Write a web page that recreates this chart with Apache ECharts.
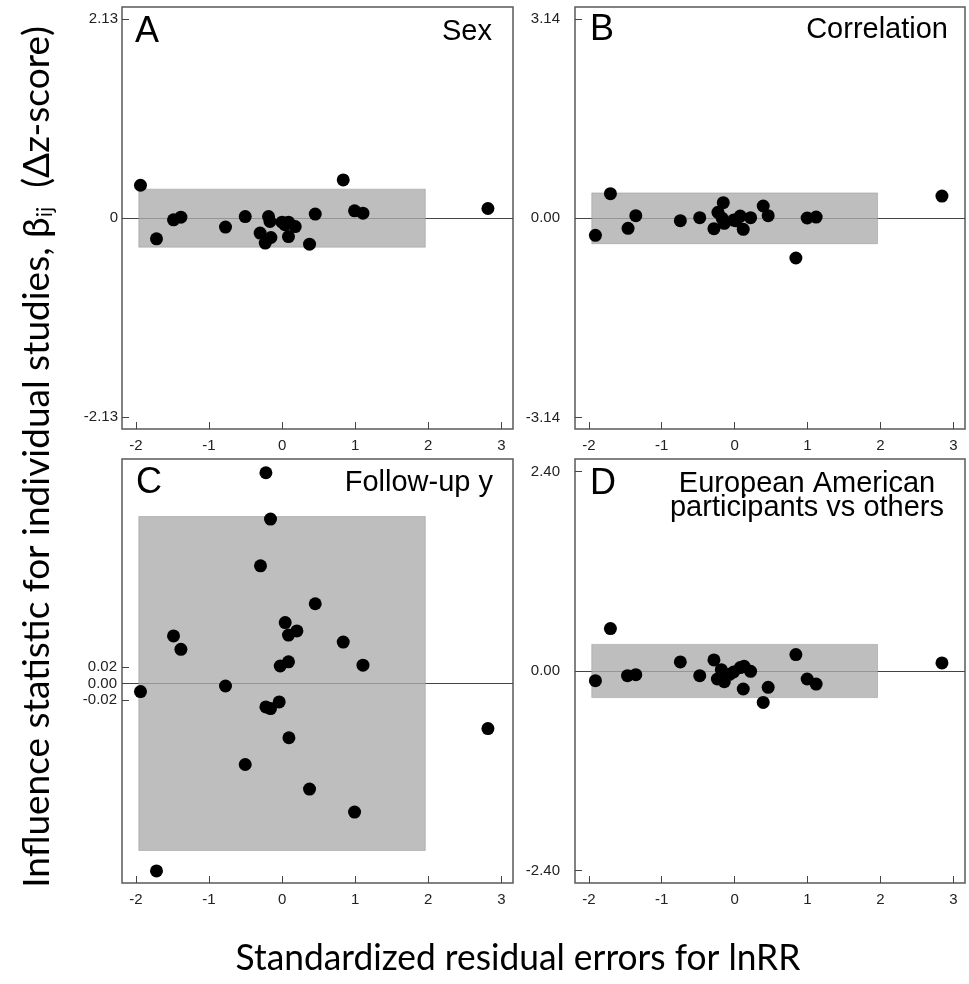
<!DOCTYPE html>
<html>
<head>
<meta charset="utf-8">
<script src="https://cdn.jsdelivr.net/npm/echarts@6/dist/echarts.min.js"></script>
<style>html,body{margin:0;padding:0;background:#fff}#c{width:969px;height:984px}</style>
</head>
<body>
<div id="c"></div>
<script>
// ---- data ----
const xTicks = [-2, -1, 0, 1, 2, 3];
const xTickLabels = ['-2', '-1', '0', '1', '2', '3'];

const panelLetters = ['A', 'B', 'C', 'D'];
const panelTitles = ['Sex', 'Correlation', 'Follow-up y', 'European American\nparticipants vs others'];

const yTicksA = [-2.13, 0, 2.13];
const yTickLabelsA = ['-2.13', '0', '2.13'];
const yTicksB = [-3.14, 0, 3.14];
const yTickLabelsB = ['-3.14', '0.00', '3.14'];
const yTicksC = [-0.02, 0, 0.02];
const yTickLabelsC = ['-0.02', '0.00', '0.02'];
const yTicksD = [-2.4, 0, 2.4];
const yTickLabelsD = ['-2.40', '0.00', '2.40'];

// axis extents
const xRange = [-2.19, 3.16];
const yRangeA = [-2.255, 2.258];
const yRangeB = [-3.32, 3.33];
const yRangeC = [-0.239, 0.269];
const yRangeD = [-2.552, 2.552];

// grey band: residual limits and influence thresholds
const bandX = [-1.96, 1.96];
const bandA = 0.31;
const bandB = 0.40;
const bandC = 0.20;
const bandD = 0.32;

// panel A: Sex
const residA = [-1.937, -1.718, -1.485, -1.384, -0.774, -0.504, -0.185, -0.165, -0.30, -0.23, -0.152, 0.0, 0.088, 0.04, 0.18, 0.088, 0.454, 0.376, 0.837, 0.992, 1.107, 2.817];
const betaA  = [0.352, -0.221, -0.018, 0.010, -0.096, 0.017, 0.017, -0.036, -0.160, -0.267, -0.207, -0.043, -0.043, -0.070, -0.090, -0.197, 0.043, -0.278, 0.409, 0.078, 0.053, 0.103];

// panel B: Correlation
const residB = [-1.91, -1.704, -1.462, -1.356, -0.745, -0.479, -0.284, -0.229, -0.156, -0.142, -0.17, -0.014, 0.02, 0.077, 0.118, 0.219, 0.392, 0.46, 0.84, 0.995, 1.118, 2.844];
const betaB  = [-0.268, 0.388, -0.158, 0.041, -0.037, 0.010, -0.163, 0.094, 0.246, -0.079, 0.000, -0.027, -0.040, 0.036, -0.173, 0.010, 0.194, 0.041, -0.625, 0.005, 0.020, 0.351];

// panel C: Follow-up y
const residC = [-0.221, -0.158, -0.295, 0.454, 0.043, 0.203, 0.088, -1.485, -1.384, 0.837, 1.107, 0.088, -0.025, -0.774, -1.937, -0.039, -0.221, -0.158, 2.817, 0.094, -0.504, 0.376, 0.992, -1.718];
const betaC  = [0.2525, 0.197, 0.141, 0.0956, 0.073, 0.063, 0.058, 0.057, 0.041, 0.0496, 0.022, 0.026, 0.021, -0.003, -0.0096, -0.022, -0.028, -0.030, -0.054, -0.065, -0.097, -0.1265, -0.154, -0.2245];

// panel D: European American participants vs others
const residD = [-1.91, -1.704, -1.47, -1.356, -0.745, -0.479, -0.284, -0.183, -0.237, -0.142, -0.07, -0.014, 0.077, 0.13, 0.118, 0.219, 0.392, 0.46, 0.84, 0.995, 1.118, 2.844];
const betaD  = [-0.116, 0.511, -0.056, -0.044, 0.109, -0.056, 0.133, 0.016, -0.096, -0.128, -0.040, -0.012, 0.041, 0.057, -0.217, -0.004, -0.378, -0.197, 0.198, -0.096, -0.157, 0.097];

const xTitle = 'Standardized residual errors for lnRR';

// ---- chart ----
const chart = echarts.init(document.getElementById('c'), null, {renderer: 'canvas'});

const grids = [
  {left: 122, top: 7, width: 391, height: 422},
  {left: 575, top: 7, width: 390, height: 422},
  {left: 122, top: 459, width: 391, height: 424},
  {left: 575, top: 459, width: 390, height: 424}
];
const panels = [
  {x: residA, y: betaA, yr: yRangeA, yt: yTicksA, yl: yTickLabelsA, band: bandA, m: 4},
  {x: residB, y: betaB, yr: yRangeB, yt: yTicksB, yl: yTickLabelsB, band: bandB, m: 15},
  {x: residC, y: betaC, yr: yRangeC, yt: yTicksC, yl: yTickLabelsC, band: bandC, m: 5},
  {x: residD, y: betaD, yr: yRangeD, yt: yTicksD, yl: yTickLabelsD, band: bandD, m: 15}
];

const labelFont = {fontFamily: 'Liberation Sans, Arial, sans-serif', fontSize: 15, color: '#222'};

const option = {
  animation: false,
  backgroundColor: '#fff',
  grid: grids.map(g => Object.assign({show: true, borderColor: '#5a5a5a', borderWidth: 1.5, backgroundColor: 'transparent'}, g)),
  xAxis: panels.map((p, i) => ({
    type: 'value', gridIndex: i, min: xRange[0], max: xRange[1], position: 'bottom',
    axisLine: {show: false, onZero: false},
    splitLine: {show: false},
    axisTick: {show: true, inside: true, length: 7, customValues: xTicks, lineStyle: {color: '#444', width: 1}},
    axisLabel: Object.assign({show: true, margin: 9, customValues: xTicks,
      formatter: v => { const k = xTicks.findIndex(t => Math.abs(t - v) < 1e-9); return k >= 0 ? xTickLabels[k] : ''; }}, labelFont)
  })),
  yAxis: panels.map((p, i) => ({
    type: 'value', gridIndex: i, min: p.yr[0], max: p.yr[1], position: 'left',
    axisLine: {show: false, onZero: false},
    splitLine: {show: false},
    axisTick: {show: true, inside: true, length: 7, customValues: p.yt, lineStyle: {color: '#444', width: 1}},
    axisLabel: Object.assign({show: true, margin: p.m, customValues: p.yt,
      formatter: v => { const k = p.yt.findIndex(t => Math.abs(t - v) < 1e-9); return k >= 0 ? p.yl[k] : ''; }}, labelFont)
  })),
  series: panels.map((p, i) => ({
    type: 'scatter', xAxisIndex: i, yAxisIndex: i,
    symbol: 'circle', symbolSize: 13,
    itemStyle: {color: '#000', opacity: 1},
    data: p.x.map((v, k) => [v, p.y[k]]),
    z: 3,
    markLine: {
      z: 0, silent: true, symbol: ['none', 'none'], label: {show: false},
      lineStyle: {color: '#444', width: 1, type: 'solid'},
      data: [{yAxis: 0}]
    },
    markArea: {
      z: 1, silent: true,
      itemStyle: {color: 'rgba(172,172,172,0.78)', borderColor: 'rgba(150,150,150,0.5)', borderWidth: 1},
      data: [[{xAxis: bandX[0], yAxis: -p.band}, {xAxis: bandX[1], yAxis: p.band}]]
    }
  })),
  graphic: [
    // panel letters
    {type: 'text', x: 135, y: 32, style: {text: panelLetters[0], font: '36px "Liberation Sans", Arial', fill: '#000', verticalAlign: 'middle', align: 'left'}},
    {type: 'text', x: 590, y: 30, style: {text: panelLetters[1], font: '36px "Liberation Sans", Arial', fill: '#000', verticalAlign: 'middle', align: 'left'}},
    {type: 'text', x: 136, y: 483, style: {text: panelLetters[2], font: '36px "Liberation Sans", Arial', fill: '#000', verticalAlign: 'middle', align: 'left'}},
    {type: 'text', x: 590, y: 484, style: {text: panelLetters[3], font: '36px "Liberation Sans", Arial', fill: '#000', verticalAlign: 'middle', align: 'left'}},
    // panel titles
    {type: 'text', x: 492, y: 32, style: {text: panelTitles[0], font: '29px "Liberation Sans", Arial', fill: '#000', verticalAlign: 'middle', align: 'right'}},
    {type: 'text', x: 948, y: 30, style: {text: panelTitles[1], font: '29px "Liberation Sans", Arial', fill: '#000', verticalAlign: 'middle', align: 'right'}},
    {type: 'text', x: 493, y: 483, style: {text: panelTitles[2], font: '29px "Liberation Sans", Arial', fill: '#000', verticalAlign: 'middle', align: 'right'}},
    {type: 'text', x: 807, y: 484, style: {text: panelTitles[3].split('\n')[0], font: '29px "Liberation Sans", Arial', fill: '#000', verticalAlign: 'middle', align: 'center'}},
    {type: 'text', x: 807, y: 508, style: {text: panelTitles[3].split('\n')[1], font: '29px "Liberation Sans", Arial', fill: '#000', verticalAlign: 'middle', align: 'center'}},
    // x title
    {type: 'text', x: 518, y: 958, scaleX: 0.955, style: {text: xTitle, font: '37px Lato', fill: '#000', verticalAlign: 'middle', align: 'center'}},
    // y title
    {type: 'text', x: 37, y: 457, rotation: Math.PI / 2, scaleX: 1.0, style: {
      text: '{m|Influence statistic for individual studies, β}{s|ij}{m|  (Δz-score)}',
      align: 'center', verticalAlign: 'middle', fill: '#000',
      rich: {m: {font: '37px Lato', fill: '#000'}, s: {font: '22px Lato', fill: '#000', verticalAlign: 'bottom'}}
    }}
  ]
};
chart.setOption(option);
</script>
</body>
</html>
